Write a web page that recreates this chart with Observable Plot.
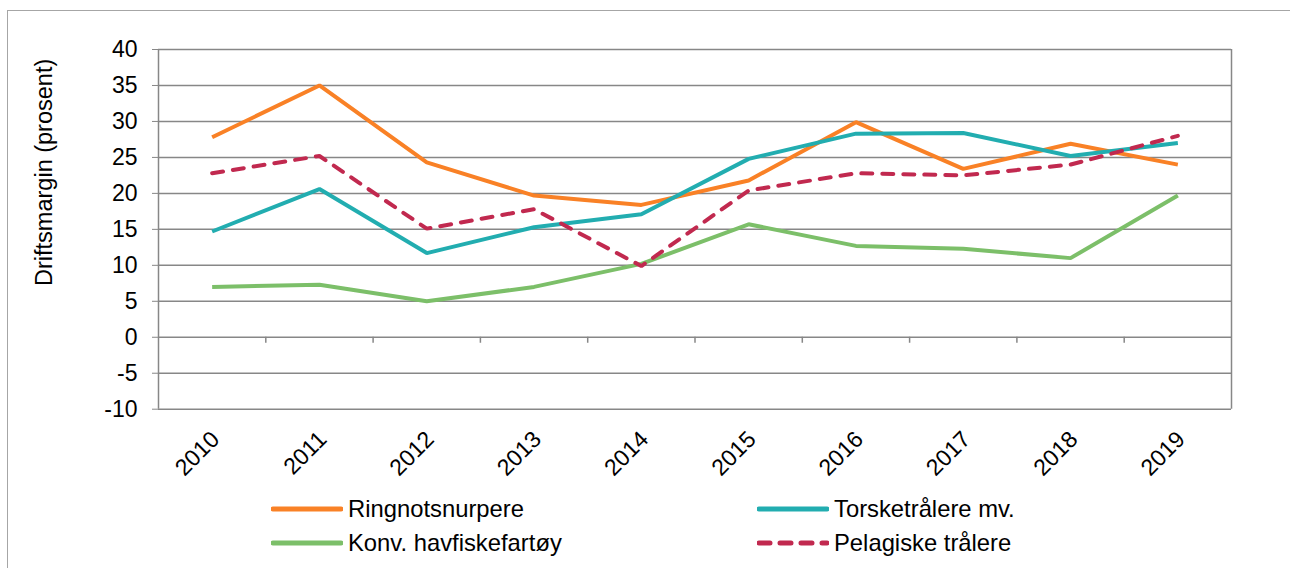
<!DOCTYPE html>
<html>
<head>
<meta charset="utf-8">
<script src="https://cdn.jsdelivr.net/npm/d3@7"></script>
<script src="https://cdn.jsdelivr.net/npm/@observablehq/plot@0.6"></script>
<style>
  html, body { margin: 0; padding: 0; background: #fff; }
  #wrap { position: relative; width: 1290px; height: 568px; overflow: hidden; font-family: "Liberation Sans", Arial, sans-serif; }
  #border { position: absolute; left: 7px; top: 10px; width: 1400px; height: 700px; border-left: 1.5px solid #a6a6a6; border-top: 1.5px solid #a6a6a6; box-sizing: border-box; }
  #chart { position: absolute; left: 0; top: 0; }
  .leg { position: absolute; display: flex; align-items: center; font-size: 23.8px; color: #000; white-space: nowrap; }
  .leg svg { margin-right: 5px; }
</style>
</head>
<body>
<div id="wrap">
  <div id="border"></div>
  <div id="chart"></div>
</div>
<script>
// ---- data ----
const years = [2010, 2011, 2012, 2013, 2014, 2015, 2016, 2017, 2018, 2019];
const ringnotsnurpere = [27.8, 35.0, 24.3, 19.7, 18.4, 21.8, 29.9, 23.4, 26.9, 24.0];
const torsketralere   = [14.7, 20.6, 11.7, 15.3, 17.1, 24.8, 28.3, 28.4, 25.2, 27.0];
const konvHavfiske    = [7.0, 7.3, 5.0, 7.0, 10.2, 15.7, 12.7, 12.3, 11.0, 19.7];
const pelagiske       = [22.8, 25.2, 15.1, 17.8, 9.9, 20.4, 22.8, 22.5, 24.0, 28.0];
const yTicks = [-10, -5, 0, 5, 10, 15, 20, 25, 30, 35, 40];
const seriesNames = ["Ringnotsnurpere", "Torsketrålere mv.", "Konv. havfiskefartøy", "Pelagiske trålere"];
const seriesValues = [ringnotsnurpere, torsketralere, konvHavfiske, pelagiske];
const seriesColors = ["#f98126", "#22adb0", "#7cbf69", "#c1294f"];
const seriesDash = [null, null, null, "11,10"];
const yTitle = "Driftsmargin (prosent)";

// ---- derived ----
const xDomain = [years[0] - 0.5, years[years.length - 1] + 0.5];
const boundaries = years.slice(1).map(y => y - 0.5);
const grid = "#878787";
const font = "Liberation Sans, Arial, sans-serif";

const lineMarks = seriesNames.map((name, i) =>
  Plot.lineY(years.map((yr, j) => ({year: yr, value: seriesValues[i][j]})), {
    x: "year", y: "value",
    stroke: seriesColors[i], strokeWidth: 4,
    strokeDasharray: seriesDash[i] || undefined,
    strokeLinecap: seriesDash[i] ? "round" : "butt",
    strokeLinejoin: "miter"
  })
);

const chart = Plot.plot({
  width: 1290, height: 568,
  marginLeft: 158, marginRight: 59, marginTop: 49, marginBottom: 159.3,
  style: {fontFamily: font, background: "transparent", color: "#000"},
  x: {domain: xDomain, axis: null},
  y: {domain: [yTicks[0], yTicks[yTicks.length - 1]], axis: null},
  marks: [
    Plot.ruleY(yTicks, {stroke: grid, strokeWidth: 1.5}),
    Plot.ruleX(xDomain, {stroke: grid, strokeWidth: 1.5}),
    Plot.ruleX(boundaries, {y1: 0, y2: 0, insetBottom: -6, stroke: grid, strokeWidth: 1.5}),
    Plot.axisY({ticks: yTicks, tickSize: 6, tickPadding: 15, stroke: grid, fill: "#000", fontSize: 23, label: null, tickFormat: d => String(d)}),
    Plot.text(years, {x: d => d, frameAnchor: "bottom", text: d => String(d), rotate: -45, textAnchor: "end", lineAnchor: "top", dx: -3, dy: 20, fontSize: 23, fill: "#000"}),
    Plot.text([yTitle], {frameAnchor: "left", text: d => d, rotate: -90, textAnchor: "middle", lineAnchor: "middle", dx: -114, dy: -57, fontSize: 23.5, fill: "#000"}),
    ...lineMarks
  ]
});
document.getElementById("chart").appendChild(chart);

// ---- legend ----
const wrap = document.getElementById("wrap");
const legPos = [[271, 509], [757, 509], [271, 543], [757, 543]];
seriesNames.forEach((name, i) => {
  const div = document.createElement("div");
  div.className = "leg";
  div.style.left = legPos[i][0] + "px";
  div.style.top = (legPos[i][1] - 15) + "px";
  div.style.height = "30px";
  const dash = seriesDash[i] ? `stroke-dasharray="${seriesDash[i]}"` : "";
  div.innerHTML = `<svg width="72" height="10"><line x1="2" y1="5" x2="70" y2="5" stroke="${seriesColors[i]}" stroke-width="5" stroke-linecap="round" ${dash}/></svg><span>${name}</span>`;
  wrap.appendChild(div);
});
</script>
</body>
</html>
